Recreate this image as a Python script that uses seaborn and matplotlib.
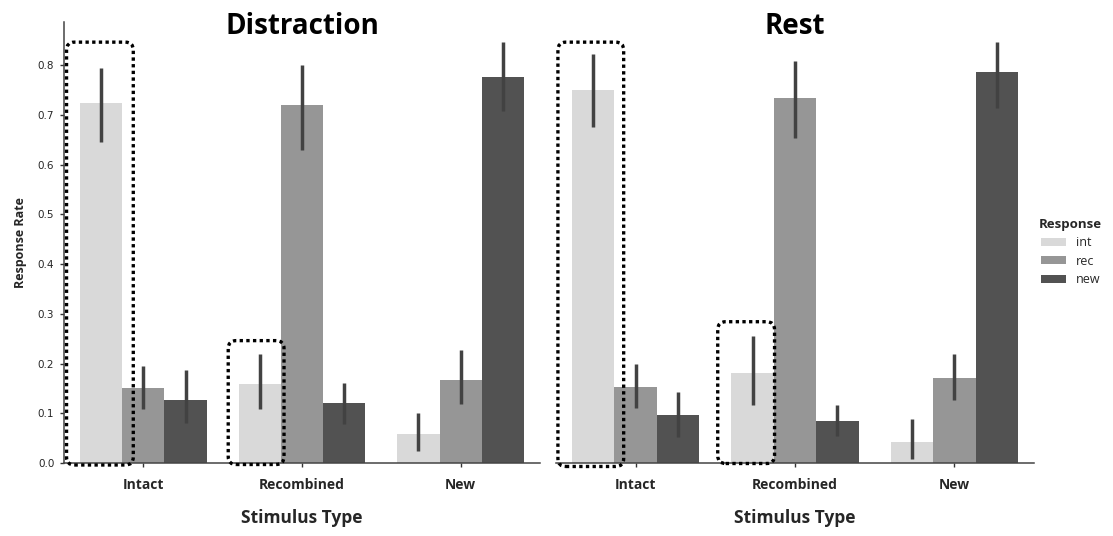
import numpy as np
import pandas as pd
import seaborn as sns
import matplotlib.pyplot as plt
from matplotlib.patches import FancyBboxPatch

# ---------------- data ----------------
stimulus_types = ["Intact", "Recombined", "New"]
responses = ["int", "rec", "new"]
conditions = ["Distraction", "Rest"]

# rows: stimulus type, columns: response
distraction_mean = [[0.723, 0.151, 0.127],
                    [0.158, 0.720, 0.120],
                    [0.058, 0.167, 0.776]]
distraction_lo = [[0.645, 0.108, 0.081],
                  [0.108, 0.629, 0.078],
                  [0.025, 0.118, 0.708]]
distraction_hi = [[0.795, 0.194, 0.186],
                  [0.219, 0.800, 0.161],
                  [0.101, 0.228, 0.846]]

rest_mean = [[0.750, 0.152, 0.096],
             [0.181, 0.733, 0.084],
             [0.042, 0.171, 0.785]]
rest_lo = [[0.675, 0.110, 0.053],
           [0.117, 0.653, 0.055],
           [0.009, 0.127, 0.714]]
rest_hi = [[0.823, 0.200, 0.142],
           [0.255, 0.808, 0.117],
           [0.088, 0.219, 0.847]]

palette = ["#d9d9d9", "#969696", "#525252"]

# ---------------- style ----------------
sns.set_style("ticks")
plt.rcParams["font.family"] = ["Open Sans", "DejaVu Sans"]

W, H = 1113, 536
fig = plt.figure(figsize=(W / 100, H / 100), dpi=100)

def px_axes(x0, x1, y_top, y_bot):
    return fig.add_axes([x0 / W, 1 - y_bot / H, (x1 - x0) / W, (y_bot - y_top) / H])

ax1 = px_axes(64, 540, 22, 463)
ax2 = px_axes(556, 1034, 22, 463)

panels = [
    (ax1, "Distraction", distraction_mean, distraction_lo, distraction_hi),
    (ax2, "Rest", rest_mean, rest_lo, rest_hi),
]

YMAX = 0.8865
# highlight boxes: (stimulus idx, response idx, left pad, right pad, top, bottom) in data units
highlights = {
    "Distraction": [(0, 0, 0.084, 0.07, 0.846, -0.004), (1, 0, 0.065, 0.02, 0.246, -0.003)],
    "Rest": [(0, 0, 0.088, 0.058, 0.846, -0.007), (1, 0, 0.085, 0.005, 0.284, -0.001)],
}

for ax, title, mean, lo, hi in panels:
    df = pd.DataFrame(
        [(s, r, mean[i][j]) for i, s in enumerate(stimulus_types) for j, r in enumerate(responses)],
        columns=["Stimulus Type", "Response", "Response Rate"],
    )
    sns.barplot(data=df, x="Stimulus Type", y="Response Rate", hue="Response",
                order=stimulus_types, hue_order=responses, palette=palette,
                errorbar=None, saturation=1, width=0.8, ax=ax, legend=False,
                linewidth=0, edgecolor="none")
    for j, cont in enumerate(ax.containers):
        for i, bar in enumerate(cont):
            xc = bar.get_x() + bar.get_width() / 2
            ax.vlines(xc, lo[i][j], hi[i][j], color=".26", lw=2.5, zorder=3)
    ax.set_ylim(0, YMAX)
    ax.set_xlim(-0.5, 2.5)

    ax.text(0.5, 0.973, title, transform=ax.transAxes, ha="center", va="baseline",
            fontsize=20, fontweight="bold", color="black")
    ax.set_xlabel("Stimulus Type", fontsize=12.5, fontweight="bold", labelpad=12)
    for lab in ax.get_xticklabels():
        lab.set_fontweight("bold")
        lab.set_fontsize(10)
    ax.tick_params(axis="x", length=3, width=1, pad=8, color="#333333")
    for sp in ("bottom", "left"):
        ax.spines[sp].set_color("#444444")
        ax.spines[sp].set_linewidth(1.1)

    # dotted rounded highlight boxes
    fig.canvas.draw()
    bb = ax.get_window_extent()
    xpu = bb.width / 3.0
    ypu = bb.height / YMAX
    aspect = (1 / ypu) / (1 / xpu)
    for (si, rj, pl, pr, top, bot) in highlights[title]:
        bar = ax.containers[rj][si]
        x0 = bar.get_x() - pl
        x1 = bar.get_x() + bar.get_width() + pr
        box = FancyBboxPatch((x0, bot), x1 - x0, top - bot,
                             boxstyle="round,pad=0,rounding_size=0.05",
                             mutation_aspect=aspect, fill=False,
                             edgecolor="black", lw=2.4, linestyle=(0, (1, 1)),
                             zorder=5, clip_on=False)
        ax.add_patch(box)

sns.despine(ax=ax1)
sns.despine(ax=ax2, left=True)
ax2.tick_params(axis="y", left=False, labelleft=False)
ax2.set_ylabel("")

ax1.set_ylabel("Response Rate", fontsize=9, fontweight="bold", labelpad=8)
ax1.set_yticks(np.arange(0, 0.81, 0.1))
ax1.set_yticklabels([f"{v:.1f}" for v in np.arange(0, 0.81, 0.1)], family="DejaVu Sans", fontsize=7.5)
ax1.tick_params(axis="y", length=3, width=1, pad=4, color="#333333")

handles = [plt.Rectangle((0, 0), 1, 1, facecolor=c, edgecolor="none") for c in palette]
leg = fig.legend(handles, responses, title="Response", loc="center left",
                 bbox_to_anchor=(1028 / W, 1 - 252 / H), frameon=False,
                 fontsize=9, title_fontsize=9.5, handlelength=2.0, handleheight=0.6,
                 labelspacing=0.45, handletextpad=0.8)
leg.get_title().set_fontweight("bold")

fig.savefig("out.png", dpi=100)
